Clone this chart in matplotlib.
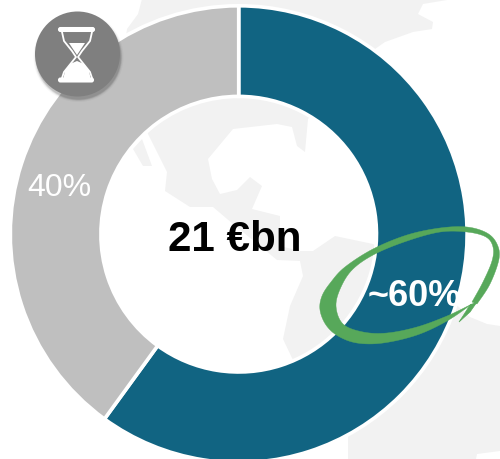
import matplotlib
matplotlib.use("Agg")
import matplotlib.pyplot as plt
from matplotlib.patches import Circle, Polygon, FancyBboxPatch
import numpy as np

plt.rcParams['font.family'] = ['Liberation Sans', 'DejaVu Sans']

shares = [60, 40]
colors = ["#116482", "#BFBFBF"]
share_labels = ["~60%", "40%"]
total_label = "21 €bn"

# background map, traced in picture pixels (y going down)
land = [(142,0),(138,15),(127,30),(125,45),(140,110),(148,135),(167,173),(165,192),(190,208),
        (213,208),(233,225),(260,247),(277,261),(300,262),(303,277),(290,307),(283,340),(292,359),
        (320,400),(348,437),(348,465),(475,465),(477,455),(500,452),(500,327),(487,325),(470,318),(450,300),
        (373,245),(335,237),(313,252),(300,252),(280,247),(280,217),(252,210),(262,187),(250,178),
        (237,191),(220,195),(212,180),(208,160),(233,130),(277,125),(292,128),(297,147),(305,153),
        (308,120),(340,80),(375,50),(385,43),(413,33),(432,30),(433,23),(418,15),(423,5),(453,0)]
island = [(133,150),(142,140),(152,167),(143,167)]

# hand drawn green ring, edges in picture pixels
ring_outer = [(472,305),(447,322),(417,336),(383,344),(357,344),(338,337),(326,326),(320,311),
              (322,297),(331,283),(345,268),(373,250),(407,236),(440,229),(467,228),(487,234),(497,245),
              (499,260),(490,285),(477,305)]
ring_inner = [(472,303),(483,283),(492,262),(493,248),(486,238),(467,233),(440,233),(407,242),
              (375,255),(353,270),(341,288),(336,307),(343,325),(363,333),(387,334),(417,328),
              (447,317),(470,306)]
barb = [(477,303),(470,313),(459,323),(463,317),(470,306)]

# hourglass icon
glass_left = [(62,33),(64,42),(72,52),(76,58),(72,63),(64,73),(62,79)]
sand_top = [(69,44),(85,44),(77,56)]
sand_bottom = [(63,81),(65,72),(70,65),(77,62),(84,65),(89,72),(91,81)]


def px(points):
    a = np.array(points, dtype=float)
    a[:, 1] = 460 - a[:, 1]
    return a


def smooth(points, n=8):
    # catmull-rom through the traced points so the brush edge is not angular
    p = np.array(points, dtype=float)
    p = np.vstack([p[0], p, p[-1]])
    out = []
    for i in range(1, len(p) - 2):
        for t in np.linspace(0, 1, n, endpoint=False):
            out.append(0.5 * (2 * p[i] + (p[i + 1] - p[i - 1]) * t
                              + (2 * p[i - 1] - 5 * p[i] + 4 * p[i + 1] - p[i + 2]) * t ** 2
                              + (3 * p[i] - p[i - 1] - 3 * p[i + 1] + p[i + 2]) * t ** 3))
    out.append(p[-2])
    return np.array(out)


fig = plt.figure(figsize=(5, 4.6), dpi=100)
ax = fig.add_axes([0, 0, 1, 1])

ax.add_patch(Polygon(px(land), closed=True, fc="#F2F2F2", ec="none", zorder=0))
ax.add_patch(Polygon(px(island), closed=True, fc="#F2F2F2", ec="none", zorder=0))

ax.pie(shares, colors=colors, startangle=90, counterclock=False, center=(238.7, 224.8), radius=228.4,
       frame=True, wedgeprops=dict(width=90.6, edgecolor="white", linewidth=2.6, zorder=1))

ax.set_xlim(0, 500)
ax.set_ylim(0, 460)
ax.set_aspect("equal")
ax.axis("off")

ax.text(235, 460 - 251.5, total_label, ha="center", va="baseline", fontsize=30.3, fontweight="bold", color="black", zorder=3)
ax.text(59.5, 460 - 196, share_labels[1], ha="center", va="baseline", fontsize=23, color="white", zorder=3)
ax.text(414.5, 460 - 306, share_labels[0], ha="center", va="baseline", fontsize=26, fontweight="bold", color="white", zorder=3)

# green ring
brush = np.vstack([smooth(ring_outer), smooth(ring_inner)])
ax.add_patch(Polygon(px(brush), closed=True, fc="#57A85A", ec="#57A85A", lw=0.3, zorder=4))
ax.add_patch(Polygon(px(barb), closed=True, fc="#57A85A", ec="#57A85A", lw=0.5, zorder=4))

# icon with soft shadow
for r, a in zip([45, 44, 43.5, 43, 42.5], [0.03, 0.04, 0.05, 0.06, 0.08]):
    ax.add_patch(Circle((78.5, 460 - 58), r, fc="black", alpha=a, ec="none", zorder=5))
ax.add_patch(Circle((77.5, 460 - 55), 42.5, fc="#7F7F7F", ec="none", zorder=6))
for x0, y0, w in [(59.5, 30.5, 34), (59.5, 81, 33)]:
    ax.add_patch(FancyBboxPatch((x0, 460 - y0 - 1), w, 2, boxstyle="round,pad=0,rounding_size=1",
                                mutation_aspect=1, fc="white", ec="white", lw=2.2, zorder=7))
left = px(glass_left)
right = left.copy()
right[:, 0] = 154 - right[:, 0]
ax.plot(left[:, 0], left[:, 1], color="white", lw=1.3, zorder=7)
ax.plot(right[:, 0], right[:, 1], color="white", lw=1.3, zorder=7)
ax.add_patch(Polygon(px(sand_top), closed=True, fc="white", ec="none", zorder=7))
ax.add_patch(Polygon(px(sand_bottom), closed=True, fc="white", ec="none", zorder=7))

fig.savefig("out.png", dpi=100)
